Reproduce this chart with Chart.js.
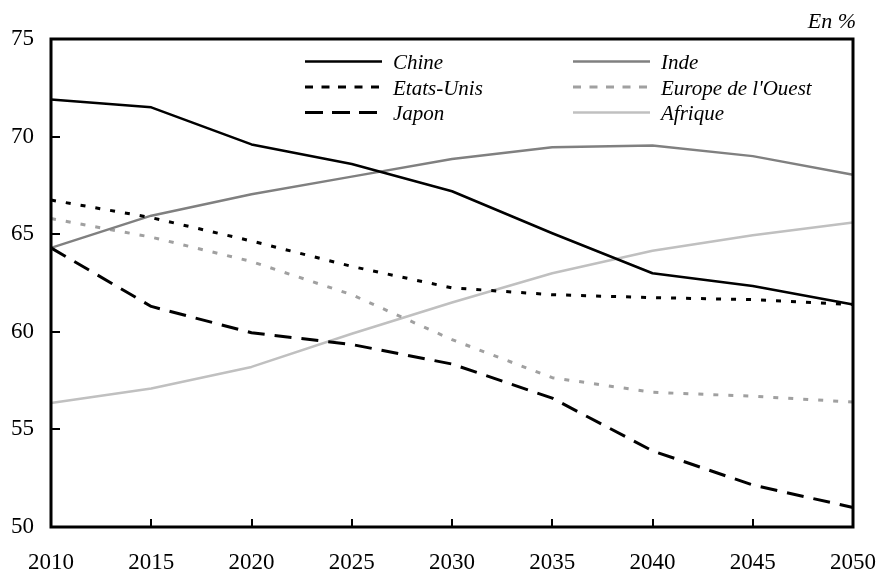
<!DOCTYPE html>
<html>
<head>
<meta charset="utf-8">
<script src="https://cdn.jsdelivr.net/npm/chart.js@4/dist/chart.umd.min.js"></script>
<style>
  html, body { margin: 0; padding: 0; background: #fff; }
  #wrap { width: 880px; height: 574px; }
</style>
</head>
<body>
<div id="wrap"><canvas id="chart" width="880" height="574"></canvas></div>
<script>
// data, in %
const years = ["2010", "2015", "2020", "2025", "2030", "2035", "2040", "2045", "2050"];
const chine = [71.9, 71.5, 69.6, 68.6, 67.2, 65.05, 63.0, 62.35, 61.4];
const etatsUnis = [66.75, 65.85, 64.65, 63.35, 62.25, 61.9, 61.75, 61.65, 61.4];
const japon = [64.3, 61.3, 59.95, 59.35, 58.35, 56.6, 53.9, 52.15, 51.0];
const inde = [64.3, 65.95, 67.05, 67.95, 68.85, 69.45, 69.55, 69.0, 68.05];
const europeOuest = [65.8, 64.85, 63.6, 61.9, 59.6, 57.65, 56.9, 56.7, 56.4];
const afrique = [56.35, 57.1, 58.2, 59.9, 61.5, 63.0, 64.15, 64.95, 65.6];
const yMin = 50;
const yMax = 75;
const yStep = 5;
const unitLabel = "En %";

const serif = "'Liberation Serif', 'Times New Roman', serif";

// legend drawn inside the plot: 3 rows, 2 columns (column-major)
const legendPlugin = {
  id: "insideLegend",
  afterDraw(chart) {
    const {ctx} = chart;
    const cols = [305, 573];
    const rows = [61.5, 87, 112.5];
    ctx.save();
    chart.data.datasets.forEach((ds, i) => {
      const x = cols[Math.floor(i / 3)];
      const y = rows[i % 3];
      ctx.beginPath();
      ctx.setLineDash(ds.legendDash || []);
      ctx.lineWidth = ds.borderWidth;
      ctx.strokeStyle = ds.borderColor;
      ctx.moveTo(x, y);
      ctx.lineTo(x + 77, y);
      ctx.stroke();
      ctx.setLineDash([]);
      ctx.fillStyle = "#000";
      ctx.font = "italic 21px " + serif;
      ctx.textBaseline = "alphabetic";
      ctx.textAlign = "left";
      ctx.fillText(ds.label, x + 88, y + 7.5);
    });
    ctx.restore();
  },
};

// box frame, inward ticks and unit label
const framePlugin = {
  id: "frame",
  afterDraw(chart) {
    const {ctx, chartArea: a, scales: {x, y}} = chart;
    ctx.save();
    ctx.strokeStyle = "#000";
    ctx.lineWidth = 2;
    ctx.beginPath();
    y.ticks.forEach(t => {
      const py = Math.round(y.getPixelForValue(t.value));
      ctx.moveTo(a.left, py);
      ctx.lineTo(a.left + 9, py);
    });
    x.ticks.forEach((t, i) => {
      const px = Math.round(x.getPixelForTick(i));
      ctx.moveTo(px, a.bottom);
      ctx.lineTo(px, a.bottom - 8);
    });
    ctx.stroke();
    ctx.lineWidth = 3;
    ctx.strokeRect(a.left, a.top, a.right - a.left, a.bottom - a.top);
    ctx.fillStyle = "#000";
    ctx.font = "italic 22px " + serif;
    ctx.textAlign = "right";
    ctx.textBaseline = "alphabetic";
    ctx.fillText(unitLabel, 856, 28);
    ctx.restore();
  },
};

const baseLine = {
  fill: false,
  pointRadius: 0,
  pointHoverRadius: 0,
  tension: 0,
  borderCapStyle: "butt",
  borderJoinStyle: "round",
};

new Chart(document.getElementById("chart"), {
  type: "line",
  data: {
    labels: years,
    datasets: [
      {...baseLine, label: "Chine", data: chine, borderColor: "#000000", borderWidth: 2.5},
      {...baseLine, label: "Etats-Unis", data: etatsUnis, borderColor: "#000000", borderWidth: 3,
        borderDash: [5, 10], legendDash: [8, 8.5]},
      {...baseLine, label: "Japon", data: japon, borderColor: "#000000", borderWidth: 3,
        borderDash: [17, 10], legendDash: [18, 9]},
      {...baseLine, label: "Inde", data: inde, borderColor: "#808080", borderWidth: 2.5},
      {...baseLine, label: "Europe de l'Ouest", data: europeOuest, borderColor: "#a0a0a0", borderWidth: 3,
        borderDash: [5, 10], legendDash: [8, 8.5]},
      {...baseLine, label: "Afrique", data: afrique, borderColor: "#c0c0c0", borderWidth: 2.5},
    ],
  },
  options: {
    responsive: false,
    animation: false,
    devicePixelRatio: 1,
    layout: {padding: {top: 39, right: 27, left: 0, bottom: 0}},
    plugins: {
      legend: {display: false},
      tooltip: {enabled: false},
    },
    scales: {
      x: {
        type: "category",
        offset: false,
        grid: {display: false, drawTicks: false},
        border: {display: false},
        ticks: {
          color: "#000",
          font: {family: serif, size: 23},
          padding: 22,
          maxRotation: 0,
          autoSkip: false,
        },
        afterFit(scale) {
          scale.height = 47;
          scale.paddingLeft = 0;
          scale.paddingRight = 0;
        },
      },
      y: {
        min: yMin,
        max: yMax,
        grid: {display: false, drawTicks: false},
        border: {display: false},
        ticks: {
          stepSize: yStep,
          color: "#000",
          font: {family: serif, size: 23},
          padding: 17,
        },
        afterFit(scale) {
          scale.width = 51;
          scale.paddingTop = 0;
          scale.paddingBottom = 0;
        },
      },
    },
  },
  plugins: [framePlugin, legendPlugin],
});
</script>
</body>
</html>
